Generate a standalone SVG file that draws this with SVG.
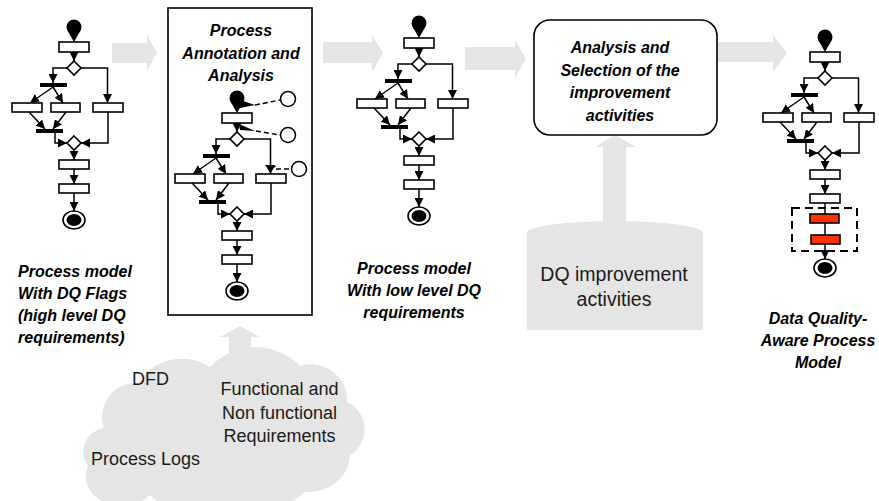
<svg xmlns="http://www.w3.org/2000/svg" xmlns:xlink="http://www.w3.org/1999/xlink" width="879" height="501" viewBox="0 0 879 501">
  <style>
    .bx { fill: #fff; stroke: #000; stroke-width: 1.6; }
    .red { fill: #ff3300; stroke: #000; stroke-width: 1.6; }
    .bar { fill: #000; }
    .ln { fill: none; stroke: #000; stroke-width: 1.5; }
    .arw { marker-end: url(#ah); }
    .dash { fill: none; stroke: #000; stroke-width: 1.5; stroke-dasharray: 5 3; }
    .gr { fill: #e5e5e5; }
    .lbl { font-family: "Liberation Sans", Arial, sans-serif; font-weight: bold; font-style: italic; font-size: 16px; fill: #000; }
    .txt { font-family: "Liberation Sans", Arial, sans-serif; font-size: 18px; fill: #1a1a1a; }
  </style>
  <defs>
    <marker id="ah" viewBox="0 0 10 10" refX="10" refY="5" markerWidth="9" markerHeight="9" markerUnits="userSpaceOnUse" orient="auto">
      <path d="M0,0 L10,5 L0,10 Z" fill="#000"/>
    </marker>
    <!-- activity flow: start, split, parallel fork/join, merge, two tasks -->
    <g id="flow-core">
      <circle cx="0" cy="0" r="7.5" fill="#000"/>
      <polygon points="-6.5,3.5 6.5,3.5 0,15" fill="#000"/>
      <rect class="bx" x="-15" y="15" width="30" height="10"/>
      <line class="ln arw" x1="0" y1="25" x2="0" y2="34"/>
      <polygon class="bx" points="0,34 7,41 0,48 -7,41"/>
      <polyline class="ln arw" points="-7,41 -21,41 -21,56"/>
      <rect class="bar" x="-34" y="56" width="27" height="4"/>
      <polyline class="ln arw" points="7,41 33.5,41 33.5,76"/>
      <line class="ln arw" x1="-21" y1="60" x2="-44" y2="76"/>
      <line class="ln arw" x1="-21" y1="60" x2="-11" y2="76"/>
      <rect class="bx" x="-62" y="76" width="30" height="9"/>
      <rect class="bx" x="-23" y="76" width="29" height="9"/>
      <rect class="bx" x="19" y="76" width="30" height="9"/>
      <line class="ln arw" x1="-45" y1="85" x2="-29" y2="102"/>
      <line class="ln arw" x1="-8" y1="85" x2="-21" y2="102"/>
      <rect class="bar" x="-38" y="102" width="27" height="4"/>
      <polyline class="ln arw" points="-19,106 -19,116 -7,116"/>
      <polygon class="bx" points="0,109 7,116 0,123 -7,116"/>
      <polyline class="ln arw" points="34,85 34,116 7,116"/>
      <line class="ln arw" x1="0" y1="123" x2="0" y2="133"/>
      <rect class="bx" x="-15" y="133" width="30" height="9"/>
      <line class="ln arw" x1="0" y1="142" x2="0" y2="157"/>
      <rect class="bx" x="-15" y="157" width="30" height="9"/>
    </g>
    <g id="flow-end">
      <line class="ln arw" x1="0" y1="166" x2="0" y2="184"/>
      <ellipse cx="0" cy="193" rx="11" ry="9" fill="#fff" stroke="#000" stroke-width="1.6"/>
      <ellipse cx="0" cy="193" rx="7.5" ry="6" fill="#000"/>
    </g>
  </defs>

  <rect width="879" height="501" fill="#fff"/>

  <!-- wide grey flow arrows -->
  <g id="connectors">
    <polygon class="gr" points="112,43 147,43 147,35 157,53 147,71 147,63 112,63"/>
    <polygon class="gr" points="323,42 372,42 372,35 383,53 372,72 372,63 323,63"/>
    <polygon class="gr" points="465,47 515,47 515,40 526,59 515,78 515,70 465,70"/>
    <polygon class="gr" points="713,42 773,42 773,35 787,53 773,72 773,62 713,62"/>
    <polygon class="gr" points="229,380 229,337 220,337 240,326 260,337 251,337 251,380"/>
    <polygon class="gr" points="603,240 603,147 595,147 615,135 636,147 626,147 626,240"/>
  </g>

  <!-- flagged process model -->
  <g id="model-flags">
    <use xlink:href="#flow-core" transform="translate(74,27)"/>
    <use xlink:href="#flow-end" transform="translate(74,27)"/>
    <text class="lbl" x="18" y="277">Process model</text>
    <text class="lbl" x="18" y="299">With DQ Flags</text>
    <text class="lbl" x="18" y="321">(high level DQ</text>
    <text class="lbl" x="18" y="343">requirements)</text>
  </g>

  <!-- annotation and analysis step -->
  <g id="annotation">
    <rect x="168" y="8" width="144" height="307" fill="#fff" stroke="#000" stroke-width="1.6"/>
    <text class="lbl" text-anchor="middle" x="241" y="36">Process</text>
    <text class="lbl" text-anchor="middle" x="241" y="58.5">Annotation and</text>
    <text class="lbl" text-anchor="middle" x="241" y="81">Analysis</text>
    <use xlink:href="#flow-core" transform="translate(237,98)"/>
    <use xlink:href="#flow-end" transform="translate(237,98)"/>
    <polygon points="240,100 255,105 240,108" fill="#000"/>
    <line class="dash" x1="255" y1="105" x2="280" y2="100"/>
    <circle cx="288" cy="99" r="7.5" fill="#fff" stroke="#000" stroke-width="1.5"/>
    <polygon points="239,124 255,131 240,130" fill="#000"/>
    <line class="dash" x1="256" y1="131" x2="280" y2="135"/>
    <circle cx="288" cy="135" r="7.5" fill="#fff" stroke="#000" stroke-width="1.5"/>
    <polygon points="265,165 276,166 270,172" fill="#000"/>
    <line class="dash" x1="276" y1="169" x2="291" y2="169"/>
    <circle cx="299" cy="169" r="7.5" fill="#fff" stroke="#000" stroke-width="1.5"/>
  </g>

  <!-- process model with low level requirements -->
  <g id="model-requirements">
    <use xlink:href="#flow-core" transform="translate(419,23)"/>
    <use xlink:href="#flow-end" transform="translate(419,23)"/>
    <text class="lbl" text-anchor="middle" x="414" y="274">Process model</text>
    <text class="lbl" text-anchor="middle" x="414" y="296">With low level DQ</text>
    <text class="lbl" text-anchor="middle" x="414" y="318">requirements</text>
  </g>

  <!-- selection step -->
  <g id="selection">
    <rect x="534" y="20" width="183" height="115" rx="16" fill="#fff" stroke="#000" stroke-width="1.6"/>
    <text class="lbl" text-anchor="middle" x="620" y="53">Analysis and</text>
    <text class="lbl" text-anchor="middle" x="620" y="75.5">Selection of the</text>
    <text class="lbl" text-anchor="middle" x="620" y="98">improvement</text>
    <text class="lbl" text-anchor="middle" x="620" y="120.5">activities</text>
  </g>

  <!-- improvement activity store -->
  <g id="activity-store">
    <path class="gr" d="M527,233 A88,12 0 0 1 703,233 L703,330 L527,330 Z"/>
    <text class="txt" text-anchor="middle" x="614" y="281" style="font-size:19.5px">DQ improvement</text>
    <text class="txt" text-anchor="middle" x="614" y="306" style="font-size:19.5px">activities</text>
  </g>

  <!-- input sources -->
  <g id="sources">
    <path class="gr" d="M104,428 A34,34 0 0 1 138,383 A52,52 0 0 1 210,367 A62,62 0 0 1 300,366 A36,36 0 0 1 347,402 A30,30 0 0 1 350,455 A42,38 0 0 1 305,492 A56,40 0 0 1 225,501 A50,40 0 0 1 150,495 A36,30 0 0 1 88,466 A24,24 0 0 1 104,428 Z"/>
    <text class="txt" x="132" y="385">DFD</text>
    <text class="txt" text-anchor="middle" x="279.5" y="395">Functional and</text>
    <text class="txt" text-anchor="middle" x="279.5" y="419">Non functional</text>
    <text class="txt" text-anchor="middle" x="279.5" y="442">Requirements</text>
    <text class="txt" x="91" y="465">Process Logs</text>
  </g>

  <!-- data quality aware process model -->
  <g id="model-dq-aware">
    <use xlink:href="#flow-core" transform="translate(825,37)"/>
    <g transform="translate(825,37)">
      <line class="ln" x1="0" y1="166" x2="0" y2="177"/>
      <rect class="red" x="-15" y="177" width="29" height="9"/>
      <line class="ln" x1="0" y1="186" x2="0" y2="198"/>
      <rect class="red" x="-14" y="198" width="29" height="9"/>
      <rect x="-33" y="171" width="65" height="43" fill="none" stroke="#000" stroke-width="2" stroke-dasharray="8 5"/>
      <line class="ln arw" x1="0" y1="207" x2="0" y2="222"/>
      <ellipse cx="0" cy="231" rx="11" ry="9" fill="#fff" stroke="#000" stroke-width="1.6"/>
      <ellipse cx="0" cy="231" rx="7.5" ry="6" fill="#000"/>
    </g>
    <text class="lbl" text-anchor="middle" x="818" y="324">Data Quality-</text>
    <text class="lbl" text-anchor="middle" x="818" y="346">Aware Process</text>
    <text class="lbl" text-anchor="middle" x="818" y="368">Model</text>
  </g>
</svg>
